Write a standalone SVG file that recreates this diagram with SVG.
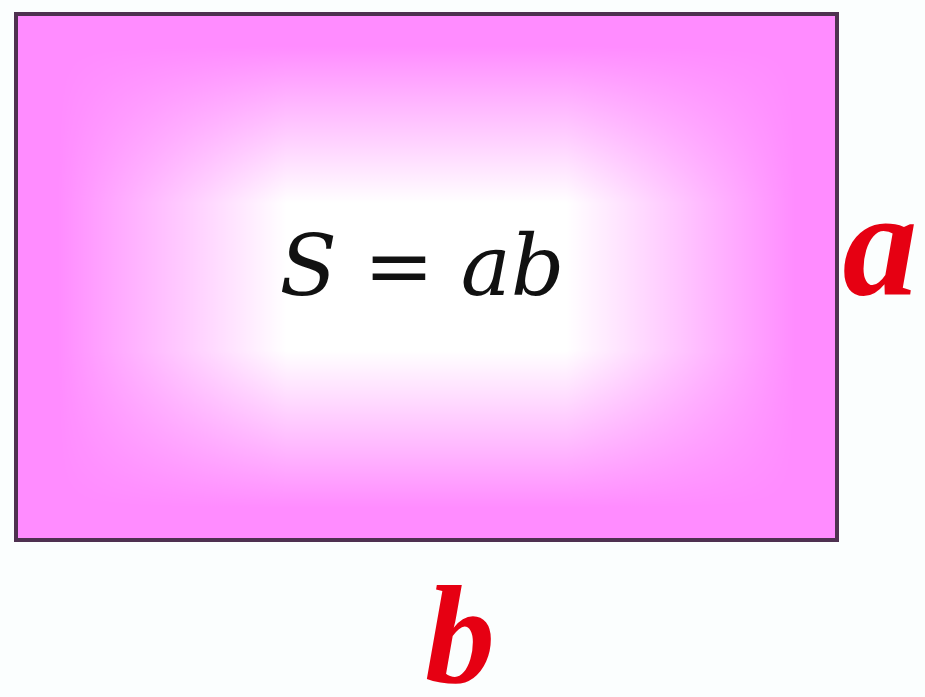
<svg xmlns="http://www.w3.org/2000/svg" width="925" height="697" viewBox="0 0 925 697">
<defs>
<linearGradient id="hg" x1="0" y1="0" x2="1" y2="0">
<stop offset="0" stop-color="#000"/>
<stop offset="0.05" stop-color="#000"/>
<stop offset="0.33" stop-color="#fff"/>
<stop offset="0.67" stop-color="#fff"/>
<stop offset="0.95" stop-color="#000"/>
<stop offset="1" stop-color="#000"/>
</linearGradient>
<linearGradient id="vg" x1="0" y1="0" x2="0" y2="1">
<stop offset="0" stop-color="#000"/>
<stop offset="0.06" stop-color="#000"/>
<stop offset="0.36" stop-color="#fff"/>
<stop offset="0.64" stop-color="#fff"/>
<stop offset="0.94" stop-color="#000"/>
<stop offset="1" stop-color="#000"/>
</linearGradient>
<mask id="hm" maskUnits="userSpaceOnUse" x="16" y="14" width="821" height="526"><rect x="16" y="14" width="821" height="526" fill="url(#hg)"/></mask>
<mask id="vm" maskUnits="userSpaceOnUse" x="16" y="14" width="821" height="526"><rect x="16" y="14" width="821" height="526" fill="url(#vg)"/></mask>
<style>
.lbl{font-family:"Liberation Serif",serif;font-style:italic;font-weight:bold;fill:#e60012}
.f{font-family:"DejaVu Serif","Liberation Serif",serif;fill:#111}
</style>
</defs>
<rect width="925" height="697" fill="#fbfefe"/>
<g id="rect">
<rect x="16" y="14" width="821" height="526" fill="#ff8cff"/>
<g mask="url(#vm)"><rect x="16" y="14" width="821" height="526" fill="#ffffff" mask="url(#hm)"/></g>
<rect x="16" y="14" width="821" height="526" fill="none" stroke="#4e3150" stroke-width="4"/>
<text class="f" x="422" y="295" font-size="84" text-anchor="middle"><tspan font-style="italic">S</tspan> = <tspan font-style="italic">ab</tspan></text>
</g>
<g id="label-a"><text class="lbl" x="880" y="294" font-size="150" text-anchor="middle">a</text></g>
<g id="label-b"><text class="lbl" x="460" y="682" font-size="140" text-anchor="middle">b</text></g>
</svg>
